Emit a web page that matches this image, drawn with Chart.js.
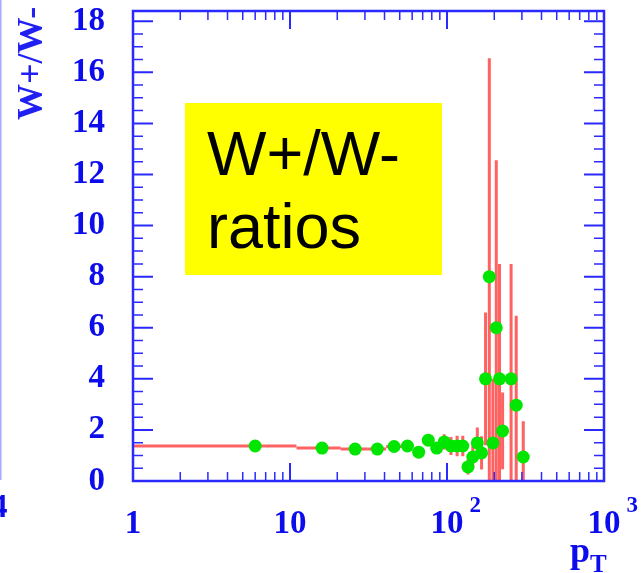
<!DOCTYPE html>
<html>
<head>
<meta charset="utf-8">
<script src="https://cdn.jsdelivr.net/npm/chart.js@4.4.0/dist/chart.umd.min.js"></script>
<style>
  html, body { margin: 0; padding: 0; background: #fff; }
  #wrap { position: relative; width: 642px; height: 573px; }
</style>
</head>
<body>
<div id="wrap"><canvas id="c"></canvas></div>
<script>
// W+/W- ratio per pT bin (bins are 10 wide, markers at bin centres)
const binCenters  = [6, 16, 26, 36, 46, 56, 66, 76, 86, 96, 106, 116, 126, 136, 146, 156, 166, 176, 186, 196, 206, 216, 226, 256, 276, 306];
const ratioValues = [1.37, 1.29, 1.25, 1.25, 1.35, 1.37, 1.13, 1.60, 1.29, 1.53, 1.37, 1.37, 1.37, 0.55, 0.94, 1.49, 1.10, 4.0, 8.0, 1.49, 6.0, 4.0, 1.96, 4.0, 2.97, 0.94];
const ratioErrors = [0.04, 0.04, 0.05, 0.06, 0.08, 0.10, 0.12, 0.15, 0.20, 0.30, 0.35, 0.40, 0.40, 0.30, 0.45, 0.60, 0.65, 2.6, 8.55, 2.5, 6.56, 4.5, 1.5, 4.5, 3.5, 1.4];
const binHalfWidth = 5;

// axis labels
const xTickValues = [1, 10, 100, 1000];
const xTickBases  = ['1', '10', '10', '10'];
const xTickExps   = ['', '', '2', '3'];
const yTitle = 'W+/W-';
const boxLines = ['W+/W-', 'ratios'];

const axisBlue = '#2a2aff';
const textBlue = '#0c0cec';
const serif = '"Liberation Serif", "DejaVu Serif", serif';

const rootFrame = {
  id: 'rootFrame',
  beforeDatasetsDraw(chart) {
    // red error bars: bin width horizontally, statistical error vertically
    const { ctx, chartArea: a, scales: { x, y } } = chart;
    ctx.save();
    ctx.beginPath();
    ctx.rect(a.left, a.top, a.right - a.left, a.bottom - a.top);
    ctx.clip();
    ctx.strokeStyle = 'rgba(255,70,70,0.85)';
    ctx.lineWidth = 3;
    binCenters.forEach((c, i) => {
      const px = x.getPixelForValue(c);
      const py = y.getPixelForValue(ratioValues[i]);
      ctx.beginPath();
      ctx.moveTo(x.getPixelForValue(c - binHalfWidth), py);
      ctx.lineTo(x.getPixelForValue(c + binHalfWidth), py);
      ctx.moveTo(px, y.getPixelForValue(ratioValues[i] - ratioErrors[i]));
      ctx.lineTo(px, y.getPixelForValue(ratioValues[i] + ratioErrors[i]));
      ctx.stroke();
    });
    ctx.restore();
  },
  afterDraw(chart) {
    const { ctx, chartArea: a, scales: { x, y } } = chart;
    ctx.save();

    // ticks on all four sides, pointing inwards
    ctx.strokeStyle = axisBlue;
    for (let d = 1; d < 1000; d *= 10) {
      for (let m = 1; m <= 9; m++) {
        const v = m * d;
        if (v === 1) continue;
        const px = x.getPixelForValue(v);
        const len = m === 1 ? 18 : 9;
        ctx.lineWidth = m === 1 ? 2 : 1.5;
        ctx.beginPath();
        ctx.moveTo(px, a.bottom); ctx.lineTo(px, a.bottom - len);
        ctx.moveTo(px, a.top); ctx.lineTo(px, a.top + len);
        ctx.stroke();
      }
    }
    for (let k = 1; k <= 36; k++) {
      const v = k * 0.5;
      const py = y.getPixelForValue(v);
      const major = k % 4 === 0;
      const len = major ? 20 : 10;
      ctx.lineWidth = major ? 2 : 1.5;
      ctx.beginPath();
      ctx.moveTo(a.left, py); ctx.lineTo(a.left + len, py);
      ctx.moveTo(a.right, py); ctx.lineTo(a.right - len, py);
      ctx.stroke();
    }

    // frame
    ctx.lineWidth = 2.5;
    ctx.strokeRect(a.left, a.top, a.right - a.left, a.bottom - a.top);

    // x tick labels with exponents
    ctx.fillStyle = textBlue;
    ctx.textBaseline = 'alphabetic';
    xTickValues.forEach((v, i) => {
      const px = x.getPixelForValue(v);
      ctx.font = 'bold 33px ' + serif;
      ctx.textAlign = 'center';
      ctx.fillText(xTickBases[i], px, 533);
      if (xTickExps[i]) {
        const w = ctx.measureText(xTickBases[i]).width;
        ctx.font = 'bold 23px ' + serif;
        ctx.textAlign = 'left';
        ctx.fillText(xTickExps[i], px + w / 2 + 6, 512);
      }
    });

    // axis titles
    ctx.textAlign = 'left';
    ctx.font = 'bold 36px ' + serif;
    ctx.fillText('p', 570, 562);
    ctx.font = 'bold 25px ' + serif;
    ctx.fillText('T', 590, 572);

    ctx.save();
    ctx.translate(42, 120);
    ctx.rotate(-Math.PI / 2);
    ctx.fillStyle = '#2020f2';
    ctx.font = 'bold 36px ' + serif;
    ctx.fillText(yTitle, 0, 0);
    ctx.restore();

    // cropped neighbour pad on the left edge
    ctx.strokeStyle = '#a8a8ff';
    ctx.lineWidth = 1.5;
    ctx.beginPath(); ctx.moveTo(0.75, 0); ctx.lineTo(0.75, 480); ctx.stroke();
    ctx.font = 'bold 33px ' + serif;
    ctx.textAlign = 'right';
    ctx.fillStyle = textBlue;
    ctx.fillText('4', 7.5, 517);

    // yellow label box
    ctx.fillStyle = '#ffff00';
    ctx.fillRect(185, 103, 257, 172);
    ctx.fillStyle = '#000';
    ctx.textAlign = 'left';
    ctx.font = '63px "Liberation Sans", Arial, sans-serif';
    ctx.fillText(boxLines[0], 207, 175);
    ctx.fillText(boxLines[1], 207, 248);

    ctx.restore();
  }
};

new Chart(document.getElementById('c'), {
  type: 'scatter',
  data: {
    datasets: [{
      data: binCenters.map((c, i) => ({ x: c, y: ratioValues[i] })),
      backgroundColor: '#00e600',
      borderWidth: 0,
      pointRadius: 6.5,
      pointHoverRadius: 6.5
    }]
  },
  options: {
    responsive: true,
    maintainAspectRatio: false,
    animation: false,
    devicePixelRatio: 1,
    layout: { padding: { top: 11, right: 38, left: 0, bottom: 0 }, autoPadding: false },
    plugins: { legend: { display: false }, tooltip: { enabled: false } },
    scales: {
      x: {
        type: 'logarithmic',
        min: 1,
        max: 1000,
        grid: { display: false, drawTicks: false },
        border: { display: false },
        ticks: { display: false },
        afterFit: s => { s.height = 92; s.paddingLeft = 0; s.paddingRight = 0; }
      },
      y: {
        min: 0,
        max: 18.4,
        grid: { display: false, drawTicks: false },
        border: { display: false },
        ticks: {
          stepSize: 2,
          includeBounds: false,
          padding: 28,
          color: textBlue,
          font: { family: serif, size: 33, weight: 'bold' }
        },
        afterFit: s => { s.width = 133; s.paddingTop = 0; s.paddingBottom = 0; }
      }
    }
  },
  plugins: [rootFrame]
});
</script>
</body>
</html>
